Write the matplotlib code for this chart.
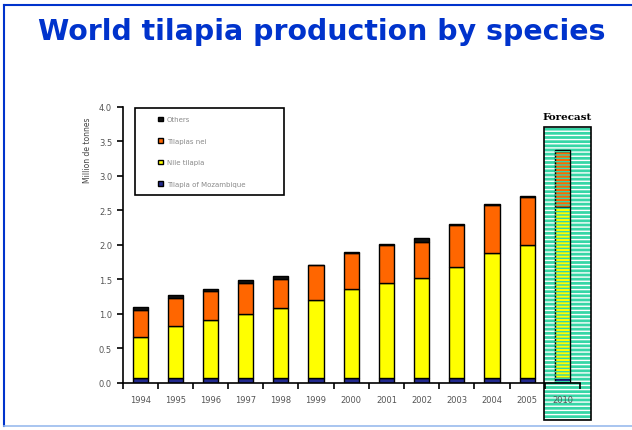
import numpy as np
import matplotlib
matplotlib.use('Agg')
import matplotlib.pyplot as plt
from matplotlib.patches import Rectangle

years = ['1994', '1995', '1996', '1997', '1998', '1999', '2000', '2001',
         '2002', '2003', '2004', '2005', '2010']
# values (million tonnes)
mozambique = np.array([0.06, 0.06, 0.06, 0.06, 0.06, 0.06, 0.06, 0.06, 0.06, 0.06, 0.06, 0.06, 0.07])
nile = np.array([0.60, 0.76, 0.85, 0.93, 1.02, 1.14, 1.30, 1.38, 1.45, 1.62, 1.82, 1.94, 2.48])
nei = np.array([0.39, 0.41, 0.41, 0.45, 0.42, 0.50, 0.52, 0.56, 0.53, 0.61, 0.70, 0.69, 0.81])
others = np.array([0.04, 0.04, 0.04, 0.04, 0.04, 0.01, 0.01, 0.01, 0.05, 0.01, 0.01, 0.01, 0.01])

c_moz = '#232a8e'
c_nile = '#ffff00'
c_nei = '#ff6600'
c_oth = '#111111'
teal = '#36d6a6'

fig = plt.figure(figsize=(6.32, 4.31), dpi=100)
ax = fig.add_axes([122.5/632, 1-383.5/431, (580-122.5)/632, (383.5-107.7)/431])

x = np.arange(len(years))
w = 0.43
kw = dict(width=w, edgecolor='black', linewidth=1.0, zorder=3)
ax.bar(x, mozambique, color=c_moz, label='Tilapia of Mozambique', **kw)
ax.bar(x, nile, bottom=mozambique, color=c_nile, label='Nile tilapia', **kw)
ax.bar(x, nei, bottom=mozambique+nile, color=c_nei, label='Tilapias nei', **kw)
ax.bar(x, others, bottom=mozambique+nile+nei, color=c_oth, label='Others', **kw)

ax.set_xlim(-0.5, len(years)-0.5)
ax.set_ylim(0, 4)
ax.set_yticks(np.arange(0, 4.01, 0.5))
ax.set_yticklabels(['%.1f' % v for v in np.arange(0, 4.01, 0.5)])
ax.set_xticks(np.arange(-0.5, len(years)), minor=False)
ax.set_xticklabels([])
ax.set_xticks(x, minor=True)
ax.set_xticklabels(years, minor=True)
ax.tick_params(axis='x', which='minor', length=0, labelsize=6, labelcolor='#555555', pad=9)
ax.tick_params(axis='x', which='major', length=4, width=1.2, direction='out')
ax.tick_params(axis='y', length=4, width=1.2, direction='out', labelsize=6, labelcolor='#555555')
ax.xaxis.set_zorder(7)
ax.spines['top'].set_visible(False)
ax.spines['right'].set_visible(False)
ax.spines['left'].set_linewidth(1.2)
ax.spines['bottom'].set_linewidth(1.2)
ax.spines['bottom'].set_zorder(6)

# forecast box around the last bar
fx = x[-1]
rx0, rx1 = fx - 0.53, fx + 0.80
ry0, ry1 = -0.545, 3.71
ax.add_patch(Rectangle((rx0, ry0), rx1-rx0, ry1-ry0, facecolor=teal, hatch='----',
                       edgecolor='white', linewidth=0, zorder=2, clip_on=False))
ftop = mozambique[-1] + nile[-1] + nei[-1] + others[-1]
ax.add_patch(Rectangle((fx - w/2, 0), w, ftop, fill=False, hatch='-----',
                       edgecolor=teal, linewidth=0, zorder=4))
ax.add_patch(Rectangle((rx0, ry0), rx1-rx0, ry1-ry0, fill=False,
                       edgecolor='black', linewidth=1.2, zorder=5, clip_on=False))
ax.text((rx0+rx1)/2, ry1+0.08, 'Forecast', ha='center', va='bottom',
        fontsize=7.5, fontweight='bold', family='DejaVu Serif')

# legend with a box drawn by hand (wider than the entries)
handles = ax.get_legend_handles_labels()[0][::-1]
leg = ax.legend(handles=handles, loc='upper left',
                bbox_to_anchor=((155-122.5)/457.5, (383.5-114)/275.8), fontsize=5,
                labelspacing=2.23, frameon=False, handlelength=0.7, handleheight=0.7,
                borderpad=0, handletextpad=0.5)
for t in leg.get_texts():
    t.set_color('#8a8a8a')
lx0, lx1 = (135-122.5)/457.5, (284-122.5)/457.5
ly0, ly1 = (383.5-196)/275.8, (383.5-109)/275.8
ax.add_patch(Rectangle((lx0, ly0), lx1-lx0, ly1-ly0, transform=ax.transAxes,
                       fill=False, edgecolor='black', linewidth=1.2, zorder=6))

fig.text(88/632, 1-150/431, 'Million de tonnes', rotation=90, ha='center', va='center',
         fontsize=5.5, color='#444444')

fig.text(322/632, 1-32/431, 'World tilapia production by species', ha='center', va='center',
         fontsize=20.4, fontweight='bold', color='#0033cc')

# frame lines of the slide
fig.add_artist(plt.Line2D([4/632, 1], [1-6/431, 1-6/431], color='#0033cc', lw=1.5))
fig.add_artist(plt.Line2D([4/632, 4/632], [1-6/431, 1-427/431], color='#0033cc', lw=1.5))
fig.add_artist(plt.Line2D([4/632, 1], [1-427/431, 1-427/431], color='#99bbee', lw=1.2))

fig.savefig('out.png', dpi=100)
